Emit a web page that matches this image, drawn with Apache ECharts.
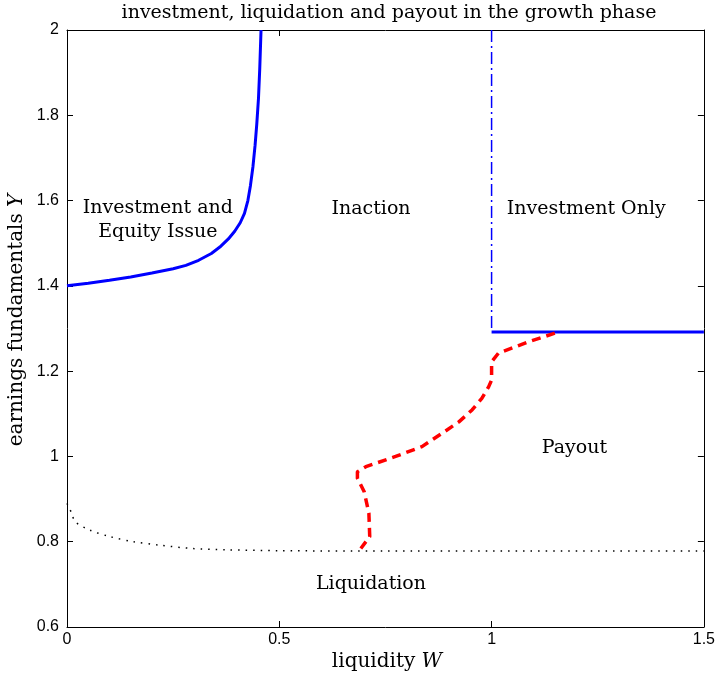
<!DOCTYPE html>
<html>
<head>
<meta charset="utf-8">
<script src="https://cdn.jsdelivr.net/npm/echarts@6/dist/echarts.min.js"></script>
<style>
  html, body { margin: 0; padding: 0; background: #fff; }
  #chart { width: 718px; height: 678px; }
</style>
</head>
<body>
<div id="chart"></div>
<script>
// equity issue boundary (solid blue, left)
const issueW = [0, 0.05, 0.1, 0.15, 0.2, 0.25, 0.28, 0.31, 0.34, 0.36, 0.38, 0.395, 0.408, 0.418, 0.426, 0.432, 0.438, 0.443, 0.447, 0.451, 0.454, 0.457]
const issueY = [1.4, 1.406, 1.413, 1.421, 1.43, 1.44, 1.448, 1.46, 1.476, 1.491, 1.51, 1.528, 1.548, 1.57, 1.6, 1.635, 1.68, 1.73, 1.78, 1.84, 1.91, 2.0]

// investment only boundary (dash-dot vertical + solid horizontal)
const invVertW = [1.0, 1.0]
const invVertY = [2.0, 1.292]
const invHorzW = [1.0, 1.5]
const invHorzY = [1.292, 1.292]

// payout boundary (red dashed)
const payW = [1.149, 1.087, 1.016, 1.0, 1.0, 0.993, 0.977, 0.954, 0.923, 0.883, 0.836, 0.774, 0.704, 0.684, 0.684, 0.7, 0.711, 0.713, 0.692]
const payY = [1.289, 1.269, 1.242, 1.222, 1.179, 1.163, 1.136, 1.109, 1.081, 1.054, 1.023, 1.0, 0.976, 0.964, 0.949, 0.917, 0.867, 0.812, 0.784]

// liquidation boundary (black dotted)
const liqW = [0, 0.011, 0.019, 0.054, 0.101, 0.156, 0.218, 0.296, 0.375, 0.5, 0.75, 1.0, 1.25, 1.5]
const liqY = [0.89, 0.867, 0.847, 0.827, 0.812, 0.8, 0.792, 0.784, 0.781, 0.779, 0.778, 0.778, 0.778, 0.778]

// region labels, in data coordinates
const regionText = ['Investment and\nEquity Issue', 'Inaction', 'Investment Only', 'Payout', 'Liquidation']
const regionW = [0.214, 0.716, 1.223, 1.195, 0.716]
const regionY = [1.554, 1.58, 1.58, 1.02, 0.70]

const xTicks = [0, 0.5, 1, 1.5]
const yMin = 0.6, yMax = 2, yStep = 0.2

const zip = (a, b) => a.map((v, i) => [v, b[i]])

const serif = '"DejaVu Serif", "Liberation Serif", serif'
const sans = '"Liberation Sans", Arial, sans-serif'

const chart = echarts.init(document.getElementById('chart'), null, { renderer: 'canvas' })

const axisCommon = {
  axisLine: { show: true, onZero: false, lineStyle: { color: '#000', width: 1 } },
  axisTick: { show: true, inside: true, length: 6, lineStyle: { color: '#000' } },
  splitLine: { show: false }
}

const option = {
  animation: false,
  backgroundColor: '#fff',
  grid: { left: 67, right: 12, top: 30, bottom: 51 },
  xAxis: [
    {
      ...axisCommon,
      type: 'value', min: xTicks[0], max: xTicks[xTicks.length - 1], interval: 0.5,
      axisLabel: { color: '#000', fontSize: 16, fontFamily: sans, margin: 5 }
    },
    {
      ...axisCommon,
      type: 'value', position: 'top', min: xTicks[0], max: xTicks[xTicks.length - 1], interval: 0.5,
      axisLabel: { show: false }
    }
  ],
  yAxis: [
    {
      ...axisCommon,
      type: 'value', min: yMin, max: yMax, interval: yStep,
      axisLabel: { color: '#000', fontSize: 16, fontFamily: sans, margin: 8 }
    },
    {
      ...axisCommon,
      type: 'value', position: 'right', min: yMin, max: yMax, interval: yStep,
      axisLabel: { show: false }
    }
  ],
  series: [
    {
      type: 'line', data: zip(issueW, issueY), symbol: 'none',
      lineStyle: { color: '#0000ff', width: 3 }
    },
    {
      type: 'line', data: zip(invVertW, invVertY), symbol: 'none',
      lineStyle: { color: '#0000ff', width: 1.5, type: [12, 4, 2, 4] }
    },
    {
      type: 'line', data: zip(invHorzW, invHorzY), symbol: 'none',
      lineStyle: { color: '#0000ff', width: 3 }
    },
    {
      type: 'line', data: zip(payW, payY), symbol: 'none',
      lineStyle: { color: '#ff0000', width: 3.5, type: [9, 6] }
    },
    {
      type: 'line', data: zip(liqW, liqY), smooth: 0.3, symbol: 'none',
      lineStyle: { color: '#000', width: 1.5, type: [1.5, 6] }
    }
  ]
}

chart.setOption(option)

// titles and region labels
const rich = size => ({
  n: { font: size + 'px ' + serif, fill: '#000' },
  i: { font: 'italic ' + size + 'px ' + serif, fill: '#000' }
})
const graphics = [
  {
    type: 'text', x: 389, y: 13,
    style: {
      text: 'investment, liquidation and payout in the growth phase', font: '19px ' + serif, fill: '#000',
      align: 'center', verticalAlign: 'middle'
    }
  },
  {
    type: 'text', x: 387, y: 662,
    style: { text: '{n|liquidity }{i|W}', align: 'center', verticalAlign: 'middle', rich: rich(20) }
  },
  {
    type: 'text', x: 17, y: 320, rotation: Math.PI / 2,
    style: { text: '{n|earnings fundamentals }{i|Y}', align: 'center', verticalAlign: 'middle', rich: rich(20) }
  }
]
regionText.forEach((t, i) => {
  const p = chart.convertToPixel({ gridIndex: 0 }, [regionW[i], regionY[i]])
  graphics.push({
    type: 'text', x: p[0], y: p[1],
    style: { text: t, font: '19px ' + serif, fill: '#000', align: 'center', verticalAlign: 'middle', lineHeight: 24 }
  })
})
chart.setOption({ graphic: graphics })
</script>
</body>
</html>
